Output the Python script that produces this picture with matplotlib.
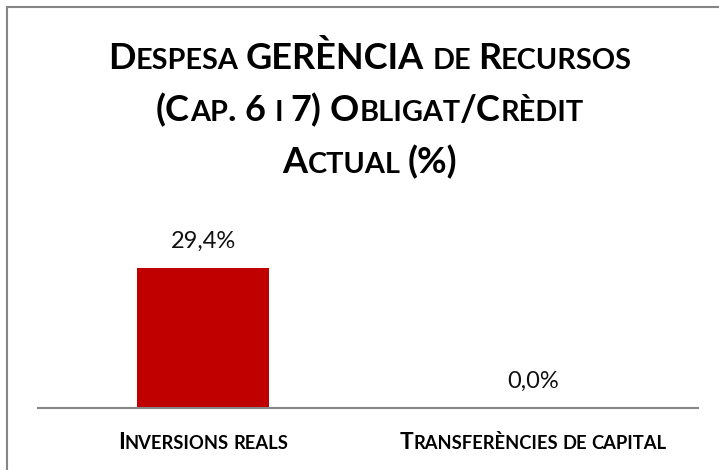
import matplotlib
matplotlib.use("Agg")
import matplotlib.pyplot as plt
from matplotlib.transforms import IdentityTransform
from matplotlib.patches import Rectangle

categories = ["Inversions reals", "Transferències de capital"]
values = [29.4, 0.0]
title_lines = ["Despesa GERÈNCIA de Recursos",
               "(Cap. 6 i 7) Obligat/Crèdit",
               "Actual (%)"]

W, H = 719, 470
DPI = 100
FONT = "Lato"
GREY = "#868686"

fig = plt.figure(figsize=(W / DPI, H / DPI), dpi=DPI)
renderer = fig.canvas.get_renderer()

# chart frame (cut off at right and bottom like the original)
fig.patches.append(Rectangle((7 / W, -0.1), 1.2, (H - 7) / H + 0.1,
                             transform=fig.transFigure, fill=False,
                             ec=GREY, lw=1.5))

ax = fig.add_axes([38 / W, (H - 407.7) / H, 660 / W, 166.7 / H])
ax.bar(range(len(values)), values, width=0.4, color="#C00000", zorder=2)
ax.set_xlim(-0.5, len(values) - 0.5)
ax.set_ylim(0, 35)
for s in ["top", "right", "left"]:
    ax.spines[s].set_visible(False)
ax.spines["bottom"].set_color(GREY)
ax.spines["bottom"].set_linewidth(1.5)
ax.set_xticks([])
ax.set_yticks([])
ax.patch.set_alpha(0)

for i, v in enumerate(values):
    ax.annotate(f"{v:.1f}%".replace(".", ","), (i, v),
                xytext=(0, 19.5 * 72 / DPI), textcoords="offset points",
                ha="center", va="baseline", fontsize=17, family=FONT,
                color="#111111")


def text_width(s, size, weight):
    t = fig.text(0, 0, s, fontsize=size, family=FONT, weight=weight)
    w = t.get_window_extent(renderer).width
    t.remove()
    return w


def small_caps(x, y, text, size, weight="bold"):
    # x = centre, y = baseline, both in pixels (y from bottom)
    runs = []
    for ch in text:
        small = ch.islower()
        sz = size * 0.8 if small else size
        c = ch.upper() if small else ch
        if ch == " ":
            runs.append([" ", runs[-1][1] if runs else size])
        elif runs and runs[-1][1] == sz and runs[-1][0] != " ":
            runs[-1][0] += c
        else:
            runs.append([c, sz])
    pieces = []
    cursor = 0.0
    for s, sz in runs:
        if s == " ":
            cursor += text_width("a a", sz, weight) - text_width("aa", sz, weight)
            continue
        t = fig.text(0, y, s, transform=IdentityTransform(), fontsize=sz,
                     family=FONT, weight=weight, ha="left", va="baseline",
                     color="black")
        w = t.get_window_extent(renderer).width
        pieces.append((t, cursor))
        cursor += w
    for t, off in pieces:
        t.set_x(x - cursor / 2 + off)


for line, base in zip(title_lines, [69, 121, 173]):
    small_caps(370, H - base, line, 26)

for i, cat in enumerate(categories):
    cx = ax.transData.transform((i, 0))[0]
    small_caps(cx, H - 449, cat, 16.5)

fig.savefig("out.png", dpi=DPI)
